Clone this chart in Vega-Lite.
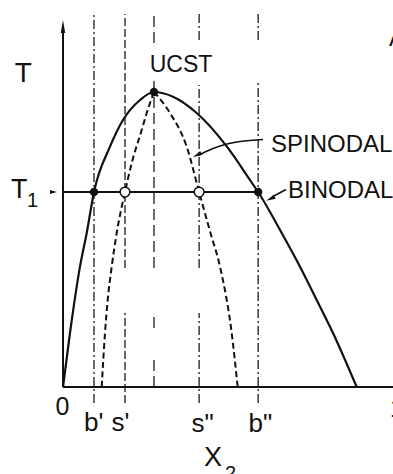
{
  "$schema": "https://vega.github.io/schema/vega-lite/v6.json",
  "width": 393,
  "height": 474,
  "padding": 0,
  "autosize": {"type": "none"},
  "background": "white",
  "config": {"view": {"stroke": null}, "font": "Liberation Sans"},
  "datasets": {
    "binodal": [
      {"x": 0.0, "t": 0.0},
      {"x": 0.0213, "t": 0.183},
      {"x": 0.0518, "t": 0.408},
      {"x": 0.0723, "t": 0.522},
      {"x": 0.0945, "t": 0.661},
      {"x": 0.1433, "t": 0.8146},
      {"x": 0.1829, "t": 0.905},
      {"x": 0.2348, "t": 0.9729},
      {"x": 0.2774, "t": 1.0},
      {"x": 0.3354, "t": 0.984},
      {"x": 0.4076, "t": 0.9288},
      {"x": 0.4998, "t": 0.8146},
      {"x": 0.5701, "t": 0.7017},
      {"x": 0.595, "t": 0.661},
      {"x": 0.6668, "t": 0.522},
      {"x": 0.7226, "t": 0.4078},
      {"x": 0.7735, "t": 0.2949},
      {"x": 0.8232, "t": 0.1831},
      {"x": 0.8954, "t": 0.0}
    ],
    "spinodal": [
      {"branch": "left", "x": 0.118, "t": 0.0},
      {"branch": "left", "x": 0.128, "t": 0.183},
      {"branch": "left", "x": 0.1363, "t": 0.2949},
      {"branch": "left", "x": 0.1485, "t": 0.4078},
      {"branch": "left", "x": 0.1637, "t": 0.522},
      {"branch": "left", "x": 0.189, "t": 0.661},
      {"branch": "left", "x": 0.2095, "t": 0.759},
      {"branch": "left", "x": 0.2399, "t": 0.871},
      {"branch": "left", "x": 0.2552, "t": 0.9288},
      {"branch": "left", "x": 0.2774, "t": 1.0},
      {"branch": "right", "x": 0.2774, "t": 1.0},
      {"branch": "right", "x": 0.3262, "t": 0.9288},
      {"branch": "right", "x": 0.3771, "t": 0.8146},
      {"branch": "right", "x": 0.415, "t": 0.661},
      {"branch": "right", "x": 0.4497, "t": 0.522},
      {"branch": "right", "x": 0.4787, "t": 0.4078},
      {"branch": "right", "x": 0.5143, "t": 0.183},
      {"branch": "right", "x": 0.5326, "t": 0.0}
    ],
    "guides": [
      {"name": "b'", "style": "dashdot", "x": 0.0945, "t": -0.054, "t2": 1.264},
      {"name": "s'", "style": "dash", "x": 0.189, "t": 0.4034, "t2": 1.264},
      {"name": "s'", "style": "dash", "x": 0.189, "t": -0.054, "t2": 0.2508},
      {"name": "UCST", "style": "longdash", "x": 0.2774, "t": 1.166, "t2": 1.264},
      {"name": "UCST", "style": "longdash", "x": 0.2774, "t": 0.4034, "t2": 1.0407},
      {"name": "UCST", "style": "longdash", "x": 0.2774, "t": 0.2, "t2": 0.2508},
      {"name": "UCST", "style": "longdash", "x": 0.2774, "t": 0.0, "t2": 0.0915},
      {"name": "s\"", "style": "dashdot", "x": 0.415, "t": 1.176, "t2": 1.264},
      {"name": "s\"", "style": "dashdot", "x": 0.415, "t": 0.4034, "t2": 1.0237},
      {"name": "s\"", "style": "dashdot", "x": 0.415, "t": -0.054, "t2": 0.2508},
      {"name": "b\"", "style": "dashdot", "x": 0.595, "t": 1.176, "t2": 1.264},
      {"name": "b\"", "style": "dashdot", "x": 0.595, "t": -0.054, "t2": 1.0305}
    ],
    "pointers": [
      {"id": "spinodal", "x": 0.6098, "t": 0.839},
      {"id": "spinodal", "x": 0.5396, "t": 0.8322},
      {"id": "spinodal", "x": 0.4787, "t": 0.8169},
      {"id": "spinodal", "x": 0.4329, "t": 0.7966},
      {"id": "spinodal", "x": 0.4116, "t": 0.7847},
      {"id": "binodal", "x": 0.6799, "t": 0.6695},
      {"id": "binodal", "x": 0.6372, "t": 0.6441}
    ]
  },
  "encoding": {
    "x": {"field": "x", "type": "quantitative", "axis": null,
          "scale": {"domain": [-0.19207, 1.0061], "nice": false, "zero": false}},
    "y": {"field": "t", "type": "quantitative", "axis": null,
          "scale": {"domain": [-0.29492, 1.31186], "nice": false, "zero": false}}
  },
  "layer": [
    {
      "data": {"name": "guides"},
      "mark": {"type": "rule", "color": "#1a1a1a", "strokeWidth": 1.3},
      "encoding": {
        "y2": {"field": "t2"},
        "detail": {"field": "name"},
        "strokeDash": {"field": "style", "type": "nominal", "legend": null,
          "scale": {"domain": ["dashdot", "dash", "longdash"],
                    "range": [[9, 3, 2, 3], [8, 3], [11, 5]]}}
      }
    },
    {
      "data": {"values": [{"x": 0, "t": 0, "t2": 1.2102}]},
      "mark": {"type": "rule", "color": "#111", "strokeWidth": 2},
      "encoding": {"y2": {"field": "t2"}}
    },
    {
      "data": {"values": [
        {"x": 0, "x2": 1.03, "t": 0},
        {"x": -0.003, "x2": 0.595, "t": 0.661}
      ]},
      "mark": {"type": "rule", "color": "#111", "strokeWidth": 2},
      "encoding": {"x2": {"field": "x2"}}
    },
    {
      "data": {"name": "binodal"},
      "mark": {"type": "line", "interpolate": "monotone", "color": "#111", "strokeWidth": 2.2}
    },
    {
      "data": {"name": "spinodal"},
      "mark": {"type": "line", "interpolate": "monotone", "color": "#111", "strokeWidth": 2, "strokeDash": [6, 3.5]},
      "encoding": {"detail": {"field": "branch"}}
    },
    {
      "data": {"name": "pointers"},
      "mark": {"type": "line", "interpolate": "monotone", "color": "#111", "strokeWidth": 1.5},
      "encoding": {"detail": {"field": "id"}}
    },
    {
      "data": {"values": [{"x": 0, "t": 1.222}]},
      "mark": {"type": "point", "shape": "M0,-1L0.34,1L-0.34,1Z", "size": 169, "filled": true, "color": "#111", "opacity": 1}
    },
    {
      "data": {"values": [{"x": 0.4085, "t": 0.7864}]},
      "mark": {"type": "point", "shape": "M0,-1L0.45,1L-0.45,1Z", "size": 90, "angle": 242, "filled": true, "color": "#111", "opacity": 1}
    },
    {
      "data": {"values": [{"x": 0.6326, "t": 0.638}]},
      "mark": {"type": "point", "shape": "M0,-1L0.45,1L-0.45,1Z", "size": 90, "angle": 245, "filled": true, "color": "#111", "opacity": 1}
    },
    {
      "data": {"values": [{"x": -0.029, "t": 0.661}]},
      "mark": {"type": "point", "shape": "M0,-1L0.6,1L-0.6,1Z", "size": 50, "angle": 90, "filled": true, "color": "#111", "opacity": 1}
    },
    {
      "data": {"values": [
        {"point": "b'", "x": 0.0945, "t": 0.661},
        {"point": "b\"", "x": 0.595, "t": 0.661},
        {"point": "UCST", "x": 0.2774, "t": 1.0}
      ]},
      "mark": {"type": "point", "shape": "circle", "size": 70, "filled": true, "color": "#111", "opacity": 1}
    },
    {
      "data": {"values": [
        {"point": "s'", "x": 0.189, "t": 0.661},
        {"point": "s\"", "x": 0.415, "t": 0.661}
      ]},
      "mark": {"type": "point", "shape": "circle", "size": 95, "fill": "white", "stroke": "#111", "strokeWidth": 1.5, "opacity": 1, "fillOpacity": 1}
    },
    {
      "data": {"values": [
        {"label": "UCST", "x": 0.3598, "t": 1.0678}
      ]},
      "mark": {"type": "text", "fontSize": 23, "align": "center", "baseline": "alphabetic", "color": "#111"},
      "encoding": {"text": {"field": "label"}}
    },
    {
      "data": {"values": [
        {"label": "SPINODAL", "x": 0.6341, "t": 0.7976},
        {"label": "BINODAL", "x": 0.686, "t": 0.6407},
        {"label": "A", "x": 0.9939, "t": 1.1559}
      ]},
      "mark": {"type": "text", "fontSize": 24, "align": "left", "baseline": "alphabetic", "color": "#111"},
      "encoding": {"text": {"field": "label"}}
    },
    {
      "data": {"values": [
        {"label": "T", "x": -0.121, "t": 1.0349}
      ]},
      "mark": {"type": "text", "fontSize": 28, "align": "center", "baseline": "alphabetic", "color": "#111"},
      "encoding": {"text": {"field": "label"}}
    },
    {
      "data": {"values": [
        {"label": "T", "x": -0.1585, "t": 0.6407},
        {"label": "X", "x": 0.4299, "t": -0.2678}
      ]},
      "mark": {"type": "text", "fontSize": 27, "align": "left", "baseline": "alphabetic", "color": "#111"},
      "encoding": {"text": {"field": "label"}}
    },
    {
      "data": {"values": [
        {"label": "1", "x": -0.1098, "t": 0.6102},
        {"label": "2", "x": 0.4939, "t": -0.3153}
      ]},
      "mark": {"type": "text", "fontSize": 20, "align": "left", "baseline": "alphabetic", "color": "#111"},
      "encoding": {"text": {"field": "label"}}
    },
    {
      "data": {"values": [
        {"label": "0", "x": -0.0015, "t": -0.0949},
        {"label": "1", "x": 1.0183, "t": -0.1017}
      ]},
      "mark": {"type": "text", "fontSize": 25, "align": "center", "baseline": "alphabetic", "color": "#111"},
      "encoding": {"text": {"field": "label"}}
    },
    {
      "data": {"values": [
        {"label": "b'", "x": 0.064, "t": -0.1492},
        {"label": "s'", "x": 0.1479, "t": -0.1492},
        {"label": "s\"", "x": 0.3918, "t": -0.1525},
        {"label": "b\"", "x": 0.5655, "t": -0.1525}
      ]},
      "mark": {"type": "text", "fontSize": 26, "align": "left", "baseline": "alphabetic", "color": "#111"},
      "encoding": {"text": {"field": "label"}}
    }
  ]
}
